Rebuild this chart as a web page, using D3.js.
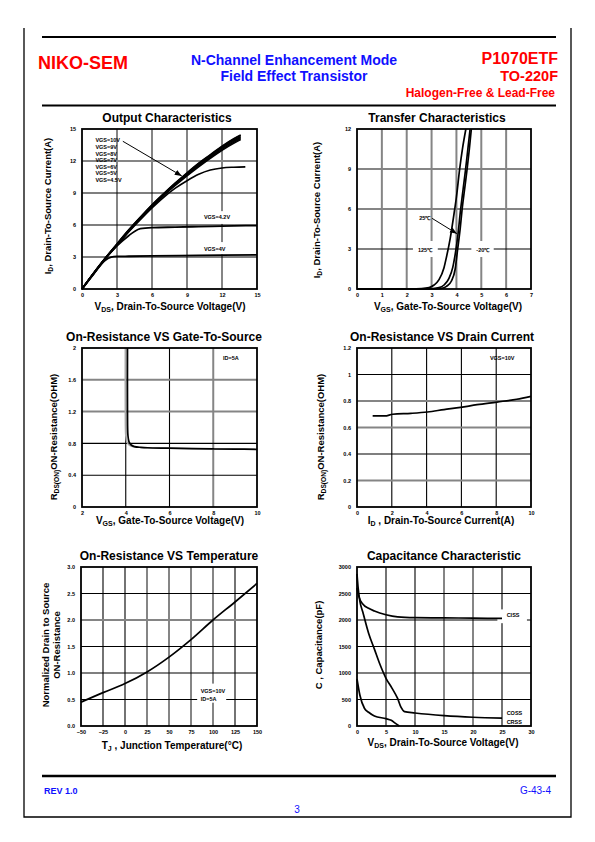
<!DOCTYPE html>
<html><head><meta charset="utf-8">
<script src="https://cdn.jsdelivr.net/npm/d3@7"></script>
<style>body{margin:0;background:#fff}svg{display:block}</style>
</head><body>
<script>
// ---------------- DATA ----------------
// Output characteristics (VDS in V, ID in A)
const outVds = [0,1,2,3,4,5,6,7,8,9,10,11,12,13,13.6];
const outId10V = [0,1.5,2.9,4.25,5.55,6.75,7.9,8.95,9.95,10.9,11.8,12.6,13.4,14.1,14.45];
const outId9V  = [0,1.5,2.9,4.2,5.5,6.7,7.85,8.9,9.9,10.85,11.75,12.55,13.35,14.05,14.4];
const outId8V  = [0,1.5,2.9,4.2,5.5,6.7,7.85,8.9,9.9,10.8,11.7,12.5,13.3,13.95,14.3];
const outId7V  = [0,1.45,2.85,4.15,5.45,6.65,7.8,8.85,9.85,10.75,11.6,12.4,13.2,13.85,14.2];
const outId6V  = [0,1.45,2.85,4.15,5.4,6.6,7.75,8.8,9.8,10.7,11.55,12.35,13.1,13.75,14.1];
const outId5V  = [0,1.45,2.85,4.1,5.4,6.6,7.7,8.75,9.7,10.6,11.45,12.25,13.0,13.65,14.0];
const outVds45 = [0,1,2,3,4,5,6,7,8,9,10,11,12,13,14];
const outId45V = [0,1.45,2.85,4.1,5.35,6.5,7.6,8.6,9.45,10.15,10.75,11.15,11.35,11.42,11.45];
const outVds42 = [0,1,2,3,4,4.5,5,6,8,10,12,15];
const outId42V = [0,1.45,2.85,4.05,5.0,5.4,5.65,5.75,5.8,5.85,5.9,5.95];
const outVds4  = [0,1,2,2.5,3,4,6,10,15];
const outId4V  = [0,1.4,2.7,2.98,3.05,3.07,3.1,3.15,3.2];
const outLabels = ["VGS=10V","VGS=9V","VGS=8V","VGS=7V","VGS=6V","VGS=5V","VGS=4.5V"];
const outTicks = [0,3,6,9,12,15];

// Transfer characteristics (VGS in V, ID in A)
const trVgs125 = [0,1,2,2.6,2.9,3.1,3.3,3.5,3.6,3.75,3.9,4.0,4.13,4.25,4.38];
const trId125  = [0,0,0.01,0.03,0.1,0.3,0.7,1.6,2.4,3.8,5.6,6.9,9.0,10.6,12.0];
const trVgs25  = [0,1,2,3,3.3,3.5,3.7,3.85,3.95,4.05,4.17,4.27,4.37,4.46,4.55];
const trId25   = [0,0,0,0.02,0.1,0.3,0.8,1.6,2.6,3.9,6.0,7.5,9.0,10.5,12.0];
const trVgsM20 = [0,1,2,3,3.4,3.6,3.8,3.95,4.05,4.15,4.23,4.33,4.43,4.52,4.6];
const trIdM20  = [0,0,0,0.01,0.05,0.2,0.6,1.5,3.0,4.5,6.0,7.5,9.0,10.5,12.0];
const trXTicks = [0,1,2,3,4,5,6,7];
const trYTicks = [0,3,6,9,12];

// On-resistance vs VGS (ID=5A)
const rgVgs = [4.08,4.08,4.1,4.15,4.25,4.4,4.7,5,6,7,8,9,10];
const rgR   = [2.0,1.2,0.9,0.82,0.78,0.76,0.75,0.745,0.74,0.735,0.73,0.728,0.725];
const rgXTicks = [2,4,6,8,10];
const rgYTicks = [0,0.4,0.8,1.2,1.6,2];

// On-resistance vs ID (VGS=10V)
const riId = [0.9,1.6,2.05,3.1,4.05,5.0,5.95,6.9,8.04,9.18,10];
const riR  = [0.687,0.687,0.70,0.707,0.717,0.735,0.752,0.772,0.792,0.813,0.835];
const riXTicks = [0,2,4,6,8,10];
const riYTicks = [0,0.2,0.4,0.6,0.8,1,1.2];

// Normalized on-resistance vs temperature
const rtT = [-50,-25,0,25,50,75,100,125,150];
const rtR = [0.45,0.63,0.80,1.02,1.30,1.63,2.0,2.34,2.69];
const rtXTicks = [-50,-25,0,25,50,75,100,125,150];
const rtYTicks = [0,0.5,1,1.5,2,2.5,3];

// Capacitance (VDS in V, C in pF)
const capVCiss = [0,0.3,1,2,3,5,7,10,15,20,25];
const capCiss  = [2600,2450,2300,2220,2170,2100,2060,2045,2040,2035,2030];
const capVCoss = [0,0.2,0.5,1,2,3,4,5,6,7,7.6,8.2,10,15,20,25];
const capCoss  = [2870,2600,2350,2150,1750,1450,1150,900,720,520,350,270,245,195,165,150];
const capVCrss = [0,0.5,1.3,2,3,5,5.9,6.7,7.3];
const capCrss  = [890,580,330,260,190,138,107,44,0];
const capXTicks = [0,5,10,15,20,25,30];
const capYTicks = [0,500,1000,1500,2000,2500,3000];

// ---------------- DRAW ----------------
const FONT = '"Liberation Sans", Arial, Helvetica, sans-serif';
const RED = "#ff0000", BLUE = "#1010ff", GRAY = "#858585";
const svg = d3.select("body").append("svg").attr("width",595).attr("height",842)
  .attr("font-family",FONT);
svg.append("rect").attr("width",595).attr("height",842).attr("fill","#fff");

svg.append("defs").append("marker").attr("id","arr").attr("viewBox","0 0 10 10")
  .attr("refX",10).attr("refY",5).attr("markerWidth",7).attr("markerHeight",7)
  .attr("markerUnits","userSpaceOnUse").attr("orient","auto")
  .append("path").attr("d","M0,1L10,5L0,9z").attr("fill","#000");

// page border and rules
svg.append("path").attr("d","M24,28V817H571V28").attr("fill","none").attr("stroke","#000").attr("stroke-width",1.3);
[37,105.5,776].forEach(yy=>svg.append("line").attr("x1",42).attr("x2",556).attr("y1",yy).attr("y2",yy)
  .attr("stroke","#000").attr("stroke-width",yy===776?2.6:2.2));

function txt(x,y,s,o={}){
  return svg.append("text").attr("x",x).attr("y",y).text(s)
    .attr("font-size",o.size||10).attr("font-weight",o.w||"bold")
    .attr("fill",o.fill||"#000").attr("text-anchor",o.anchor||"start");
}
// header
txt(38,69,"NIKO-SEM",{size:18,fill:RED});
txt(294,65,"N-Channel Enhancement Mode",{size:14,fill:BLUE,anchor:"middle"});
txt(294,81,"Field Effect Transistor",{size:14,fill:BLUE,anchor:"middle"});
txt(558,64,"P1070ETF",{size:16,fill:RED,anchor:"end"});
txt(558,81,"TO-220F",{size:14.5,fill:RED,anchor:"end"});
txt(555,97,"Halogen-Free & Lead-Free",{size:12,fill:RED,anchor:"end"});
// footer
txt(44,794,"REV 1.0",{size:9,fill:BLUE});
txt(551,794,"G-43-4",{size:10,fill:BLUE,anchor:"end",w:"normal"});
txt(297,813,"3",{size:10,fill:BLUE,anchor:"middle",w:"normal"});

// rich text with subscripts: parts = [[text, isSub], ...]
function rich(sel, parts){
  let sub=false;
  parts.forEach(([t,s])=>{
    const ts = sel.append("tspan").text(t);
    if(s && !sub){ ts.attr("dy",2).attr("font-size","70%"); }
    else if(s){ ts.attr("font-size","70%"); }
    else if(!s && sub){ ts.attr("dy",-2); }
    sub=!!s;
  });
  return sel;
}

function panel(c){
  const g = svg.append("g");
  const x = d3.scaleLinear().domain(c.xDomain).range([c.left,c.right]);
  const y = d3.scaleLinear().domain(c.yDomain).range([c.bottom,c.top]);
  const gx = c.xTicks.slice(1,-1), gy = c.yTicks.slice(1,-1);
  g.selectAll(".gx").data(gx).join("line")
    .attr("x1",d=>x(d)).attr("x2",d=>x(d)).attr("y1",c.top).attr("y2",c.bottom)
    .attr("stroke",d=>c.grayX.includes(d)?GRAY:"#000")
    .attr("stroke-width",d=>c.grayX.includes(d)?2:1.1);
  g.selectAll(".gy").data(gy).join("line")
    .attr("y1",d=>y(d)).attr("y2",d=>y(d)).attr("x1",c.left).attr("x2",c.right)
    .attr("stroke",d=>c.grayY.includes(d)?GRAY:"#000")
    .attr("stroke-width",d=>c.grayY.includes(d)?2:1.1);
  const ax = g.append("g").attr("transform",`translate(0,${c.bottom})`)
    .call(d3.axisBottom(x).tickValues(c.xTicks).tickSize(0).tickPadding(4).tickFormat(c.xFmt||d3.format("d")));
  const ay = g.append("g").attr("transform",`translate(${c.left},0)`)
    .call(d3.axisLeft(y).tickValues(c.yTicks).tickSize(0).tickPadding(6).tickFormat(c.yFmt||d3.format("d")));
  [ax,ay].forEach(a=>{a.select(".domain").remove();
    a.attr("font-family",FONT).attr("font-size",5.5).attr("font-weight","bold");});
  const layer = g.append("g");
  const frame = ()=> g.append("rect").attr("x",c.left).attr("y",c.top)
      .attr("width",c.right-c.left).attr("height",c.bottom-c.top)
      .attr("fill","none").attr("stroke","#000").attr("stroke-width",1.8);
  // title
  g.append("text").attr("x",c.titleX).attr("y",c.titleY).attr("text-anchor","middle")
    .attr("font-size",12).attr("font-weight","bold").text(c.title);
  rich(g.append("text").attr("x",c.xtX).attr("y",c.xtY).attr("text-anchor","middle")
    .attr("font-size",10).attr("font-weight","bold"), c.xTitle);
  c.yTitle.forEach((parts,i)=>{
    rich(g.append("text").attr("transform",`translate(${c.ytX+i*10.5},${c.ytY}) rotate(-90)`)
      .attr("text-anchor","middle").attr("font-size",9.5).attr("font-weight","bold"), parts);
  });
  return {g,x,y,layer,frame};
}

function curve(p, xs, ys, o={}){
  const data = xs.map((v,i)=>[v,ys[i]]);
  p.layer.append("path").datum(data)
    .attr("d", d3.line().x(d=>p.x(d[0])).y(d=>p.y(d[1])).curve(o.curve||d3.curveMonotoneX))
    .attr("fill","none").attr("stroke",o.stroke||"#000").attr("stroke-width",o.w||1.6)
    .attr("stroke-linejoin","round");
}
function label(p, xv, yv, s, o={}){
  return p.g.append("text").attr("x",p.x(xv)).attr("y",p.y(yv)).text(s)
    .attr("font-size",o.size||5.5).attr("font-weight","bold")
    .attr("text-anchor",o.anchor||"start");
}
function box(p, x0, x1, y0, y1){
  p.layer.append("rect").attr("x",p.x(x0)).attr("y",p.y(y1))
    .attr("width",p.x(x1)-p.x(x0)).attr("height",p.y(y0)-p.y(y1)).attr("fill","#fff");
}

// ---- 1. Output Characteristics
const p1 = panel({left:82,right:257,top:129,bottom:289,xDomain:[0,15],yDomain:[0,15],
  xTicks:outTicks,yTicks:outTicks,grayX:[3,6,9,12],grayY:[12],
  title:"Output Characteristics",titleX:167,titleY:122,
  xTitle:[["V"],["DS",1],[", Drain-To-Source Voltage(V)"]],xtX:170,xtY:310,
  yTitle:[[["I"],["D",1],[", Drain-To-Source Current(A)"]]],ytX:51,ytY:206});
box(p1,10.3,13.1,6.1,7.3);
box(p1,10.3,12.6,3.25,4.4);
[outId10V,outId9V,outId8V,outId7V,outId6V,outId5V].forEach(s=>curve(p1,outVds,s,{w:1.5}));
curve(p1,outVds45,outId45V,{w:1.6});
curve(p1,outVds42,outId42V,{w:1.8});
curve(p1,outVds4,outId4V,{w:1.8});
p1.frame();
outLabels.forEach((s,i)=>label(p1,1.15,13.75-i*0.62,s));
p1.g.append("line").attr("x1",p1.x(3.5)).attr("y1",p1.y(13.85))
  .attr("x2",p1.x(8.55)).attr("y2",p1.y(10.6)).attr("stroke","#000").attr("stroke-width",1)
  .attr("marker-end","url(#arr)");
label(p1,10.45,6.6,"VGS=4.2V");
label(p1,10.45,3.6,"VGS=4V");

// ---- 2. Transfer Characteristics
const p2 = panel({left:357,right:531,top:129,bottom:289,xDomain:[0,7],yDomain:[0,12],
  xTicks:trXTicks,yTicks:trYTicks,grayX:[1,2,3,4,5,6],grayY:[6,9],
  title:"Transfer Characteristics",titleX:437,titleY:122,
  xTitle:[["V"],["GS",1],[", Gate-To-Source Voltage(V)"]],xtX:448,xtY:310,
  yTitle:[[["I"],["D",1],[", Drain-To-Source Current(A)"]]],ytX:320,ytY:210});
box(p2,2.25,3.25,2.4,3.6);
box(p2,4.6,5.5,2.4,3.6);
curve(p2,trVgs125,trId125,{w:1.7});
curve(p2,trVgs25,trId25,{w:1.7});
curve(p2,trVgsM20,trIdM20,{w:1.7});
p2.frame();
label(p2,2.5,5.15,"25℃");
p2.g.append("line").attr("x1",p2.x(3.02)).attr("y1",p2.y(5.3))
  .attr("x2",p2.x(4.02)).attr("y2",p2.y(4.15)).attr("stroke","#000").attr("stroke-width",1)
  .attr("marker-end","url(#arr)");
label(p2,2.74,2.8,"125℃",{anchor:"middle"});
label(p2,5.06,2.8,"-20℃",{anchor:"middle"});

// ---- 3. On-Resistance VS Gate-To-Source
const p3 = panel({left:82,right:257,top:348,bottom:507,xDomain:[2,10],yDomain:[0,2],
  xTicks:rgXTicks,yTicks:rgYTicks,grayX:[8],grayY:[1.2,1.6],yFmt:d3.format("~g"),
  title:"On-Resistance VS Gate-To-Source",titleX:164,titleY:341,
  xTitle:[["V"],["GS",1],[", Gate-To-Source Voltage(V)"]],xtX:170,xtY:524,
  yTitle:[[["R"],["DS(ON)",1],["ON-Resistance(OHM)"]]],ytX:57,ytY:437});
curve(p3,rgVgs.map(v=>v-0.1),rgR,{curve:d3.curveCatmullRom,stroke:"#aaa",w:1.5});
curve(p3,rgVgs,rgR,{curve:d3.curveCatmullRom,w:1.7});
p3.frame();
label(p3,8.45,1.85,"ID=5A");

// ---- 4. On-Resistance VS Drain Current
const p4 = panel({left:357,right:531,top:348,bottom:507,xDomain:[0,10],yDomain:[0,1.2],
  xTicks:riXTicks,yTicks:riYTicks,grayX:[],grayY:[0.2,0.6,0.8],yFmt:d3.format("~g"),
  title:"On-Resistance VS Drain Current",titleX:442,titleY:341,
  xTitle:[["I"],["D",1],[" , Drain-To-Source Current(A)"]],xtX:441,xtY:524,
  yTitle:[[["R"],["DS(ON)",1],["ON-Resistance(OHM)"]]],ytX:324,ytY:437});
curve(p4,riId,riR,{w:1.7});
p4.frame();
label(p4,7.64,1.11,"VGS=10V");

// ---- 5. On-Resistance VS Temperature
const p5 = panel({left:81,right:257,top:567,bottom:726,xDomain:[-50,150],yDomain:[0,3],
  xTicks:rtXTicks,yTicks:rtYTicks,grayX:[25,50,75,100],grayY:[2],yFmt:d3.format(".1f"),
  title:"On-Resistance VS Temperature",titleX:169,titleY:560,
  xTitle:[["T"],["J",1],[" , Junction Temperature(°C)"]],xtX:172,xtY:749,
  yTitle:[[["Normalized Drain to Source"]],[["ON-Resistance"]]],ytX:49,ytY:645});
box(p5,82,115,0.44,0.8);
curve(p5,rtT,rtR,{w:1.7});
p5.frame();
label(p5,86,0.62,"VGS=10V");
label(p5,86,0.48,"ID=5A");

// ---- 6. Capacitance Characteristic
const p6 = panel({left:357,right:531,top:567,bottom:726,xDomain:[0,30],yDomain:[0,3000],
  xTicks:capXTicks,yTicks:capYTicks,grayX:[15,20],grayY:[],
  title:"Capacitance Characteristic",titleX:444,titleY:560,
  xTitle:[["V"],["DS",1],[", Drain-To-Source Voltage(V)"]],xtX:443,xtY:746,
  yTitle:[[["C , Capacitance(pF)"]]],ytX:322,ytY:645});
box(p6,24.2,29.3,1940,2200);
curve(p6,capVCiss,capCiss,{w:1.7});
curve(p6,capVCoss,capCoss,{w:1.7});
curve(p6,capVCrss,capCrss,{w:1.7});
p6.frame();
label(p6,25.8,2060,"CISS");
label(p6,25.8,215,"COSS");
label(p6,25.8,42,"CRSS");
</script>
</body></html>
